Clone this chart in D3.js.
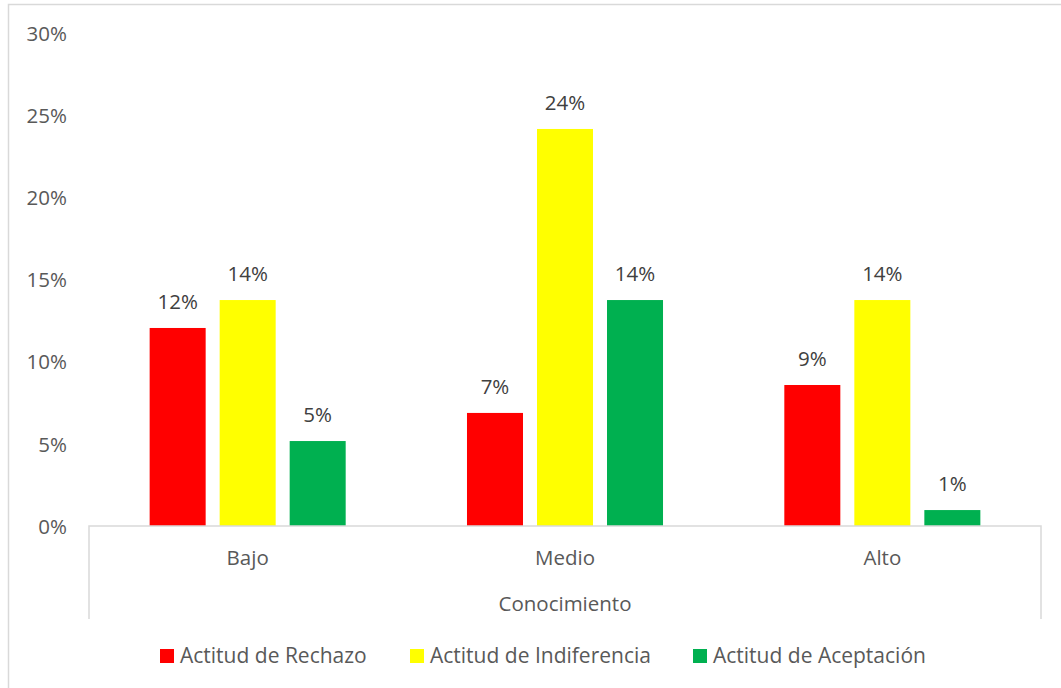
<!DOCTYPE html>
<meta charset="utf-8">
<style>
  body { margin: 0; background: #fff; }
  text { font-family: "Open Sans", sans-serif; }
  .tick text { fill: #595959; font-size: 20.5px; }
  .lbl { fill: #404040; font-size: 20.5px; text-anchor: middle; }
</style>
<body>
<svg id="chart" width="1061" height="688"></svg>
<script src="https://d3js.org/d3.v7.min.js"></script>
<script>
  var categories = ["Bajo", "Medio", "Alto"];
  var series = ["Actitud de Rechazo", "Actitud de Indiferencia", "Actitud de Aceptación"];
  var colors = ["#ff0000", "#ffff00", "#00b050"];
  var rechazo = [0.1205, 0.0688, 0.0858];
  var indiferencia = [0.1375, 0.2416, 0.1375];
  var aceptacion = [0.0517, 0.1375, 0.0097];
  var yTicks = [0, 0.05, 0.10, 0.15, 0.20, 0.25, 0.30];
  var axisTitle = "Conocimiento";

  var values = [rechazo, indiferencia, aceptacion];

  var svg = d3.select("#chart");

  // chart area border
  svg.append("rect")
    .attr("x", 8.5).attr("y", 4.5)
    .attr("width", 1070).attr("height", 700)
    .attr("fill", "none").attr("stroke", "#d9d9d9").attr("stroke-width", 1.5);

  var plotLeft = 89, plotRight = 1041, plotTop = 33, plotBottom = 526;

  var x = d3.scaleBand().domain(categories).range([plotLeft, plotRight]);
  var y = d3.scaleLinear().domain([0, 0.30]).range([plotBottom, plotTop]);

  // bars within each category: width ~56, gap ~14
  var barW = x.bandwidth() * 0.1765;
  var gap = barW * 0.25;
  var groupW = barW * 3 + gap * 2;
  var xs = d3.scaleBand().domain(d3.range(3)).range([0, groupW]).paddingInner(gap / (barW + gap));

  var yAxis = svg.append("g")
    .attr("transform", "translate(" + (plotLeft - 22) + ",0)")
    .call(d3.axisLeft(y).tickValues(yTicks).tickFormat(d3.format(".0%")).tickSize(0).tickPadding(0));
  yAxis.select(".domain").remove();
  yAxis.selectAll("text").attr("dy", "0.35em").style("font-family", "'Open Sans', sans-serif");

  var data = [];
  categories.forEach(function (c, i) {
    series.forEach(function (s, j) {
      data.push({cat: c, s: j, v: values[j][i]});
    });
  });

  var g = svg.append("g");
  g.selectAll(".bar")
    .data(data)
    .enter().append("rect")
    .attr("class", "bar")
    .attr("x", function (d) { return x(d.cat) + (x.bandwidth() - groupW) / 2 + xs(d.s); })
    .attr("y", function (d) { return y(d.v); })
    .attr("width", xs.bandwidth())
    .attr("height", function (d) { return plotBottom - y(d.v); })
    .attr("fill", function (d) { return colors[d.s]; });

  g.selectAll(".lbl")
    .data(data)
    .enter().append("text")
    .attr("class", "lbl")
    .attr("x", function (d) { return x(d.cat) + (x.bandwidth() - groupW) / 2 + xs(d.s) + xs.bandwidth() / 2; })
    .attr("y", function (d) { return y(d.v) - 19; })
    .text(function (d) { return d3.format(".0%")(d.v); });

  // category axis with outer bracket
  svg.append("path")
    .attr("d", "M" + plotLeft + ",619V" + plotBottom + "H" + plotRight + "V619")
    .attr("fill", "none").attr("stroke", "#d9d9d9").attr("stroke-width", 1.5);

  svg.selectAll(".cat")
    .data(categories)
    .enter().append("text")
    .attr("x", function (d) { return x(d) + x.bandwidth() / 2; })
    .attr("y", 565)
    .attr("text-anchor", "middle")
    .attr("fill", "#595959").style("font-size", "20.5px")
    .text(function (d) { return d; });

  svg.append("text")
    .attr("x", (plotLeft + plotRight) / 2).attr("y", 611)
    .attr("text-anchor", "middle")
    .attr("fill", "#595959").style("font-size", "20.5px")
    .text(axisTitle);

  // legend
  var legX = [160, 410, 693];
  var leg = svg.selectAll(".leg")
    .data(series)
    .enter().append("g")
    .attr("transform", function (d, i) { return "translate(" + legX[i] + ",649)"; });
  leg.append("rect").attr("width", 14).attr("height", 14)
    .attr("fill", function (d, i) { return colors[i]; });
  leg.append("text").attr("x", 20).attr("y", 7).attr("dy", "0.35em")
    .attr("fill", "#595959").style("font-size", "21px")
    .text(function (d) { return d; });
</script>
</body>
